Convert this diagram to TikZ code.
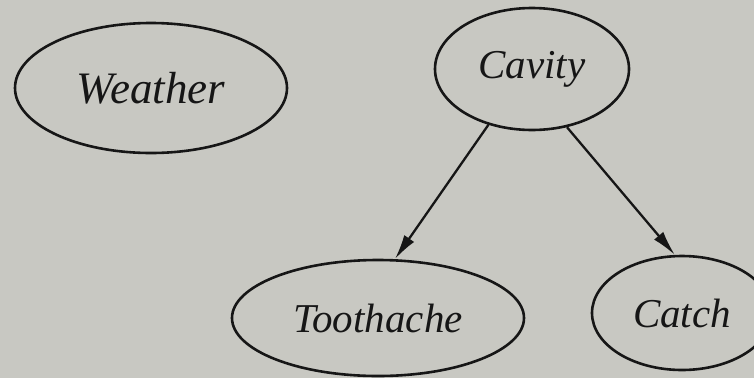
\documentclass[tikz,border=0pt]{standalone}
\usepackage{fontspec}
\setmainfont{Liberation Serif}
\usetikzlibrary{shapes.geometric,arrows.meta}
\definecolor{paper}{RGB}{200,200,194}
\definecolor{ink}{RGB}{22,22,22}
\tikzset{
  var/.style={ellipse, draw=ink, line width=2.6pt, inner sep=0pt,
    font=\fontsize{41}{41}\selectfont\itshape, text=ink},
  edge/.style={draw=ink, line width=2.3pt, -{Latex[length=25pt,width=12pt]}}
}
\begin{document}
\begin{tikzpicture}[x=1pt,y=-1pt]
\fill[paper] (0,0) rectangle (754,378);
\useasboundingbox (0,0) rectangle (754,378);
\clip (0,0) rectangle (754,378);
\node[var, minimum width=272pt, minimum height=130pt, font=\fontsize{45}{45}\selectfont\itshape] (weather) at (151,88) {Weather};
\node[var, minimum width=194pt, minimum height=122pt] (cavity) at (532,69) {Cavity};
\node[var, minimum width=292pt, minimum height=116pt] (toothache) at (378,318) {Toothache};
\node[var, minimum width=180pt, minimum height=114pt] (catch) at (682,313) {Catch};
\draw[edge] (cavity.232) -- (toothache.74);
\draw[edge] (cavity.-59) -- (catch.97);
\end{tikzpicture}
\end{document}
